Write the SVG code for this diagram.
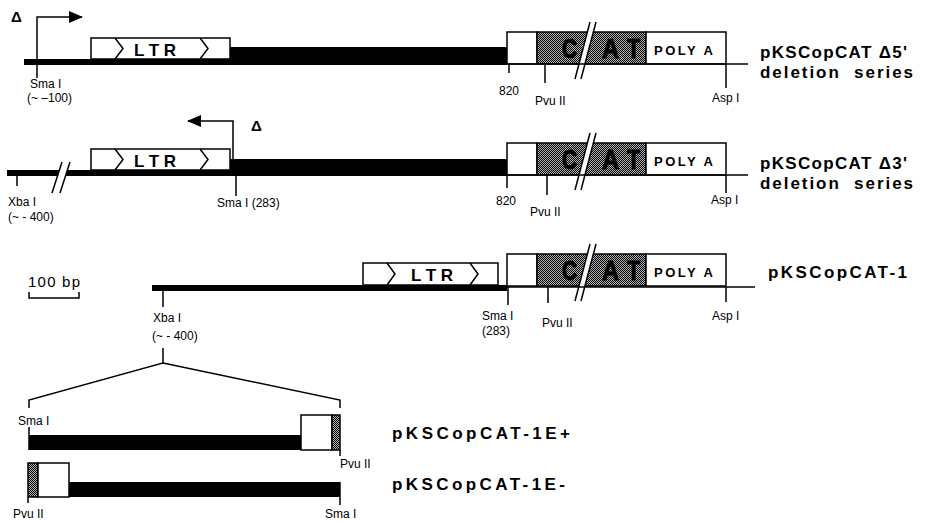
<svg xmlns="http://www.w3.org/2000/svg" xmlns:xlink="http://www.w3.org/1999/xlink" width="925" height="521" viewBox="0 0 925 521">
<style>
  .bar { fill: #000; }
  .box { fill: #fff; stroke: #000; stroke-width: 1.5; }
  .stip { fill: url(#stip); stroke: #000; stroke-width: 1.5; }
  .ln { stroke: #000; stroke-width: 1.5; fill: none; }
  .lbl { font-family: "Liberation Sans", Arial, Helvetica, sans-serif; font-size: 12px; fill: #000; }
  .big { font-family: "Liberation Sans", Arial, Helvetica, sans-serif; font-size: 17px; font-weight: bold; fill: #000; }
  .ltr { font-family: "Liberation Sans", Arial, Helvetica, sans-serif; font-size: 17px; font-weight: bold; fill: #000; }
  .cat { font-family: "Liberation Sans", Arial, Helvetica, sans-serif; font-size: 27px; font-weight: bold; fill: #000; stroke: #000; stroke-width: 1; }
  .poly { font-family: "Liberation Sans", Arial, Helvetica, sans-serif; font-size: 13px; font-weight: bold; fill: #000; }
  .delta { font-family: "Liberation Sans", Arial, Helvetica, sans-serif; font-size: 15px; font-weight: bold; fill: #000; }
</style>
<defs>
  <pattern id="stip" width="2" height="2" patternUnits="userSpaceOnUse">
    <rect width="2" height="2" fill="#b4b4b4"/>
    <rect width="1" height="1" fill="#000"/>
    <rect x="1" y="1" width="1" height="1" fill="#000"/>
  </pattern>
  <marker id="ah" viewBox="0 0 14 12" refX="13" refY="6" markerWidth="14" markerHeight="12" markerUnits="userSpaceOnUse" orient="auto">
    <path d="M0,0 L14,6 L0,12 z" fill="#000"/>
  </marker>
  <g id="cassette">
    <rect x="507" y="0" width="30" height="32" class="box"/>
    <rect x="537" y="0" width="109" height="32" class="stip"/>
    <rect x="646" y="0" width="80" height="32" class="box"/>
    <text class="cat" x="562" y="26" textLength="15" lengthAdjust="spacingAndGlyphs">C</text>
    <text class="cat" x="602" y="26" textLength="17" lengthAdjust="spacingAndGlyphs">A</text>
    <text class="cat" x="627" y="26" textLength="13" lengthAdjust="spacingAndGlyphs">T</text>
    <polygon points="575,47 590,-10 596,-10 581,47" fill="#fff"/>
    <line x1="575" y1="47" x2="590" y2="-10" class="ln"/>
    <line x1="581" y1="47" x2="596" y2="-10" class="ln"/>
    <text class="poly" x="654" y="23" textLength="59">POLY A</text>
  </g>
  <g id="ltrmark">
    <polyline points="24,0 32,10.5 24,21" class="ln"/>
    <polyline points="109,0 117,10.5 109,21" class="ln"/>
  </g>
</defs>

<rect width="925" height="521" fill="#fff"/>

<g id="connectors">
  <path d="M163,348 V363 L29,400 V408 M163,363 L340,400 V408" class="ln"/>
</g>

<g id="row1">
  <rect x="24" y="59" width="206" height="6" class="bar"/>
  <rect x="230" y="47" width="277" height="18" class="bar"/>
  <rect x="91" y="38" width="139" height="21" class="box"/>
  <use xlink:href="#ltrmark" href="#ltrmark" transform="translate(91,38)"/>
  <text class="ltr" x="155" y="55.5" text-anchor="middle">L T R</text>
  <use xlink:href="#cassette" href="#cassette" transform="translate(0,32)"/>
  <line x1="507" y1="64" x2="748" y2="64" class="ln"/>
  <path d="M509,64 V73 M545,64 V83 M726,64 V88" class="ln"/>
  <path d="M37,78 V17 H82" class="ln" marker-end="url(#ah)"/>
  <text class="delta" x="11" y="22">Δ</text>
  <text class="lbl" x="30" y="88">Sma I</text>
  <text class="lbl" x="27" y="102">(~ –100)</text>
  <text class="lbl" x="499" y="95">820</text>
  <text class="lbl" x="535" y="105">Pvu II</text>
  <text class="lbl" x="712" y="102">Asp I</text>
  <text class="big" x="760" y="58" textLength="147">pKSCopCAT Δ5'</text>
  <text class="big" x="760" y="78" textLength="153" xml:space="preserve">deletion  series</text>
</g>

<g id="row2">
  <rect x="7" y="170" width="226" height="6" class="bar"/>
  <polygon points="52,193 62,162 70,162 60,193" fill="#fff"/>
  <line x1="52" y1="193" x2="62" y2="162" class="ln"/>
  <line x1="60" y1="193" x2="70" y2="162" class="ln"/>
  <rect x="230" y="159" width="277" height="17" class="bar"/>
  <rect x="91" y="149" width="139" height="21" class="box"/>
  <use xlink:href="#ltrmark" href="#ltrmark" transform="translate(91,149)"/>
  <text class="ltr" x="155" y="166.5" text-anchor="middle">L T R</text>
  <use xlink:href="#cassette" href="#cassette" transform="translate(0,143)"/>
  <line x1="507" y1="175" x2="748" y2="175" class="ln"/>
  <path d="M17,176 V186 M236,176 V196 M507,175 V188 M547,175 V195 M726,175 V193" class="ln"/>
  <path d="M233,159 V121 H188" class="ln" marker-end="url(#ah)"/>
  <text class="delta" x="251" y="131">Δ</text>
  <text class="lbl" x="8" y="206">Xba I</text>
  <text class="lbl" x="8" y="221">(~ - 400)</text>
  <text class="lbl" x="217" y="207">Sma I (283)</text>
  <text class="lbl" x="496" y="205">820</text>
  <text class="lbl" x="530" y="216">Pvu II</text>
  <text class="lbl" x="711" y="204">Asp I</text>
  <text class="big" x="760" y="169" textLength="147">pKSCopCAT Δ3'</text>
  <text class="big" x="760" y="189" textLength="153" xml:space="preserve">deletion  series</text>
</g>

<g id="scale">
  <text class="lbl" x="28" y="287" style="font-size:15px" textLength="52">100 bp</text>
  <path d="M29,292 V298 H79 V292" class="ln"/>
</g>

<g id="row3">
  <rect x="152" y="285" width="355" height="6" class="bar"/>
  <rect x="363" y="263" width="135" height="22" class="box"/>
  <polyline points="387,263 395,274 387,285" class="ln"/>
  <polyline points="470,263 478,274 470,285" class="ln"/>
  <text class="ltr" x="432" y="280.5" text-anchor="middle">L T R</text>
  <use xlink:href="#cassette" href="#cassette" transform="translate(0,254)"/>
  <line x1="507" y1="287" x2="755" y2="287" class="ln"/>
  <path d="M163,291 V307 M508,287 V305 M548,287 V303 M726,287 V302" class="ln"/>
  <text class="lbl" x="153" y="322">Xba I</text>
  <text class="lbl" x="152" y="340">(~ - 400)</text>
  <text class="lbl" x="482" y="320">Sma I</text>
  <text class="lbl" x="482" y="335">(283)</text>
  <text class="lbl" x="542" y="327">Pvu II</text>
  <text class="lbl" x="712" y="320">Asp I</text>
  <text class="big" x="768" y="278" textLength="139">pKSCopCAT-1</text>
</g>

<g id="row4">
  <line x1="29" y1="427" x2="29" y2="450" class="ln"/>
  <rect x="29" y="435" width="272" height="15" class="bar"/>
  <rect x="301" y="415" width="31" height="35" class="box"/>
  <rect x="332" y="415" width="8" height="35" class="stip"/>
  <line x1="340" y1="450" x2="340" y2="456" class="ln"/>
  <text class="lbl" x="18" y="425">Sma I</text>
  <text class="lbl" x="340" y="468">Pvu II</text>
  <text class="big" x="392" y="439" textLength="178">pKSCopCAT-1E+</text>
</g>

<g id="row5">
  <rect x="28" y="463" width="10" height="34" class="stip"/>
  <rect x="38" y="463" width="31" height="34" class="box"/>
  <rect x="69" y="482" width="271" height="15" class="bar"/>
  <path d="M28,497 V503 M340,482 V505" class="ln"/>
  <text class="lbl" x="13" y="518">Pvu II</text>
  <text class="lbl" x="325" y="518">Sma I</text>
  <text class="big" x="392" y="490" textLength="173">pKSCopCAT-1E-</text>
</g>
</svg>
